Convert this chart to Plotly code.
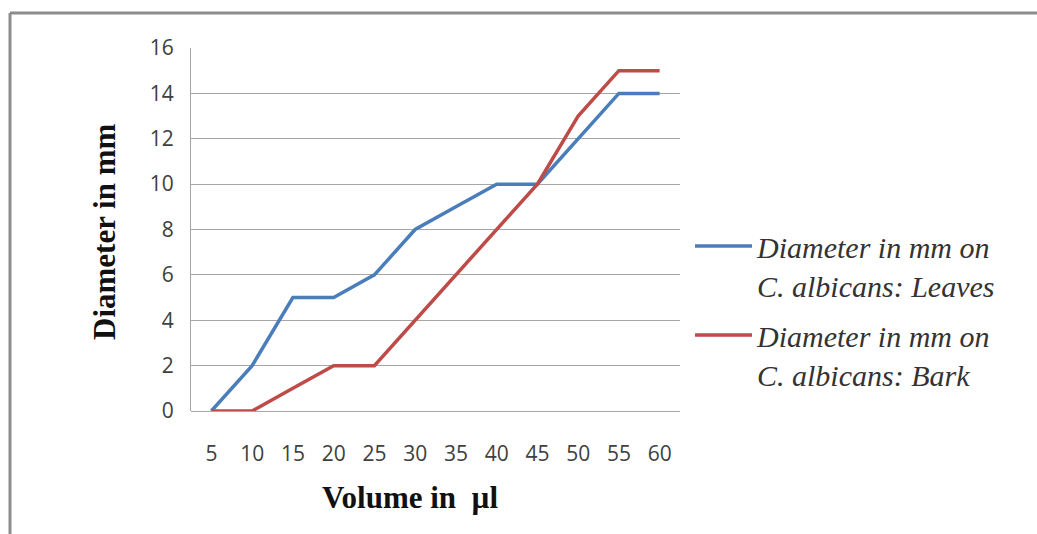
import plotly.graph_objects as go

volumes = ["5", "10", "15", "20", "25", "30", "35", "40", "45", "50", "55", "60"]
leaves = [0, 2, 5, 5, 6, 8, 9, 10, 10, 12, 14, 14]
bark = [0, 0, 1, 2, 2, 4, 6, 8, 10, 13, 15, 15]
y_ticks = [0, 2, 4, 6, 8, 10, 12, 14, 16]
name_leaves = "<i>Diameter in mm on<br>C. albicans: Leaves</i>"
name_bark = "<i>Diameter in mm on<br>C. albicans: Bark</i>"

W, H = 1037, 534
L, R, T, B = 191, 680, 48, 411

fig = go.Figure()
fig.add_trace(go.Scatter(x=volumes, y=leaves, mode="lines", name=name_leaves,
                         legendgroup="leaves",
                         line=dict(color="#4A7EBB", width=3.5)))
fig.add_trace(go.Scatter(x=volumes, y=bark, mode="lines", name=name_bark,
                         legendgroup="bark",
                         line=dict(color="#BE4B48", width=3.5)))

def px_x(p):
    return (p - L) / (R - L)

def px_y(p):
    return (B - p) / (B - T)

fig.update_layout(
    width=W, height=H,
    margin=dict(l=L, r=W - R, t=T, b=H - B),
    paper_bgcolor="white", plot_bgcolor="white",
    showlegend=True,
    legend=dict(
        x=px_x(690), y=px_y(220), xanchor="left", yanchor="top",
        font=dict(family="Liberation Serif", size=30, color="#333333"),
        valign="top", tracegroupgap=8, itemwidth=57,
        bgcolor="rgba(0,0,0,0)",
    ),
    xaxis=dict(
        type="category", range=[-0.5, 11.5],
        showgrid=False, showline=False, ticks="",
        tickfont=dict(family="Open Sans", size=21, color="#404040"),
        ticklabelstandoff=28,
    ),
    yaxis=dict(
        range=[0, 16], tickvals=y_ticks,
        showgrid=True, gridcolor="#A6A6A6", gridwidth=1,
        showline=True, linecolor="#A6A6A6", linewidth=1,
        zeroline=True, zerolinecolor="#A6A6A6", zerolinewidth=1,
        ticks="", ticklabelstandoff=12,
        tickfont=dict(family="Open Sans", size=21, color="#404040"),
    ),
    annotations=[
        dict(text="<b>Diameter in mm</b>", x=px_x(104), y=px_y(232),
             xref="paper", yref="paper", showarrow=False, textangle=-90,
             xanchor="center", yanchor="middle",
             font=dict(family="Liberation Serif", size=31, color="#111111")),
        dict(text="<b>Volume in  \u00b5l</b>", x=px_x(410), y=px_y(497),
             xref="paper", yref="paper", showarrow=False,
             xanchor="center", yanchor="middle",
             font=dict(family="Liberation Serif", size=31, color="#111111")),
    ],
    shapes=[
        dict(type="line", xref="paper", yref="paper",
             x0=px_x(10), x1=px_x(1037), y0=px_y(13), y1=px_y(13),
             line=dict(color="#8C8C8C", width=3)),
        dict(type="line", xref="paper", yref="paper",
             x0=px_x(10), x1=px_x(10), y0=px_y(13), y1=px_y(534),
             line=dict(color="#8C8C8C", width=3)),
    ],
)

fig.write_html("out.html", config={"displayModeBar": False},
               post_script="document.body.style.margin='0';")
